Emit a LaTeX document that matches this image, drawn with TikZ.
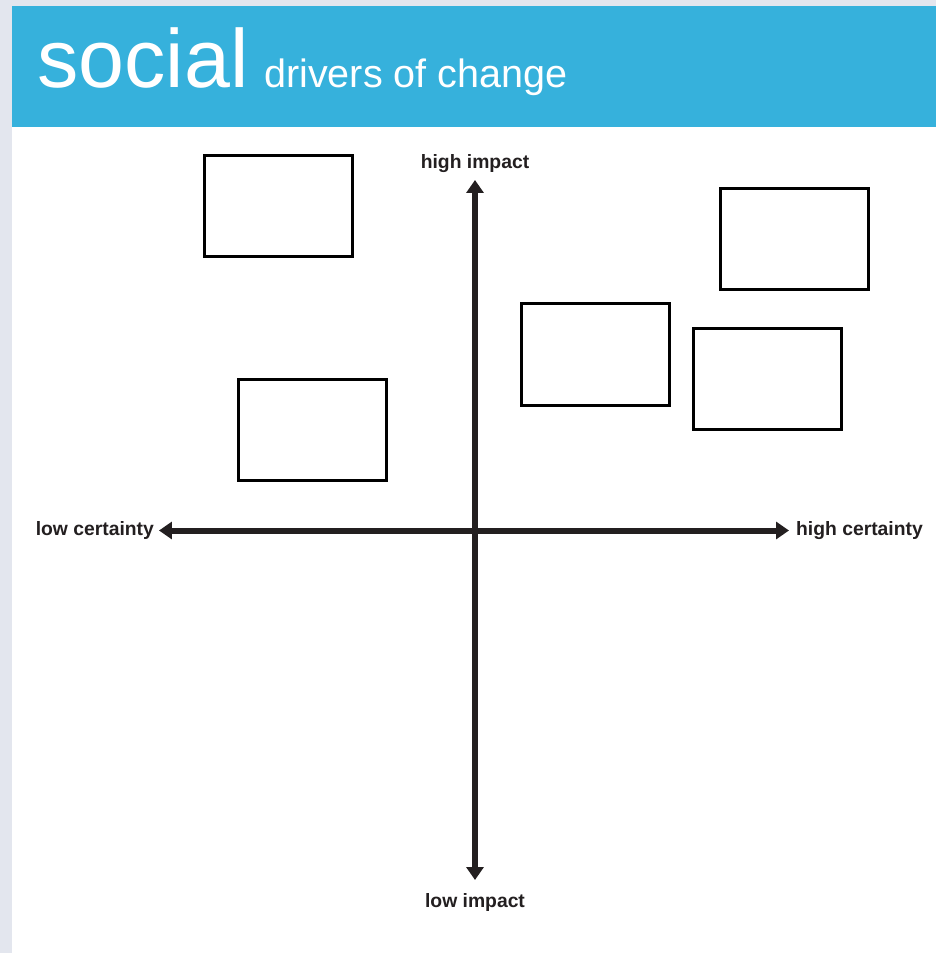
\documentclass[tikz,border=0pt]{standalone}
\usepackage{fontspec}
\setmainfont{Liberation Sans}
\usepackage{tikz}
\usetikzlibrary{arrows.meta}
\usetikzlibrary{positioning}

\definecolor{pagegray}{HTML}{E3E6EE}
\definecolor{bandblue}{HTML}{36B1DC}
\definecolor{axisblack}{HTML}{231F20}

\begin{document}
\begin{tikzpicture}[
        x=0.02cm, y=-0.02cm,
        node distance=0.1cm and 0.1cm,
        every node/.style={font=\sffamily},
        box/.style={draw, line width=0.06cm, minimum width=2.97cm, minimum height=2.03cm, inner sep=0pt},
        axislabel/.style={font=\bfseries\fontsize{11}{13}\selectfont, text=axisblack, inner sep=1pt},
        axis/.style={{Triangle[width=0.34cm, length=0.26cm]}-{Triangle[width=0.34cm, length=0.26cm]}, line width=0.12cm, draw=axisblack}
    ]

    % Page and header
    \fill[pagegray] (0,0) rectangle (936,953);
    \fill[white] (12,6) rectangle (936,953);
    \fill[bandblue] (12,6) rectangle (936,127);
    \useasboundingbox (0,0) rectangle (936,953);

    % Title
    \node[anchor=base west, inner sep=0pt, text=white, font=\fontsize{47}{50}\selectfont] (title) at (37,88) {social};
    \node[inner sep=0pt, text=white, font=\fontsize{22.5}{26}\selectfont, right=0.3cm of title.base east, anchor=base west] (subtitle) {drivers of change};

    % Axis ends
    \coordinate (itop) at (475,180);
    \coordinate (ibot) at (475,880);
    \coordinate (cleft) at (159,530.5);
    \coordinate (cright) at (789,530.5);

    % Labels
    \node[axislabel, above=0.1cm of itop] (highimpact) {high impact};
    \node[axislabel, below=0.22cm of ibot] (lowimpact) {low impact};
    \node[axislabel, left=0.06cm of cleft] (lowcert) {low certainty};
    \node[axislabel, right=0.1cm of cright] (highcert) {high certainty};

    % Boxes
    \node[box] (drivera) at (278.5,206) {};
    \node[box] (driverb) at (312.5,430) {};
    \node[box] (driverc) at (595.5,354.5) {};
    \node[box] (driverd) at (794.5,239) {};
    \node[box] (drivere) at (767.5,379) {};

    % Arrows
    \draw[axis] (ibot) -- (itop);
    \draw[axis] (cleft) -- (cright);

\end{tikzpicture}
\end{document}
